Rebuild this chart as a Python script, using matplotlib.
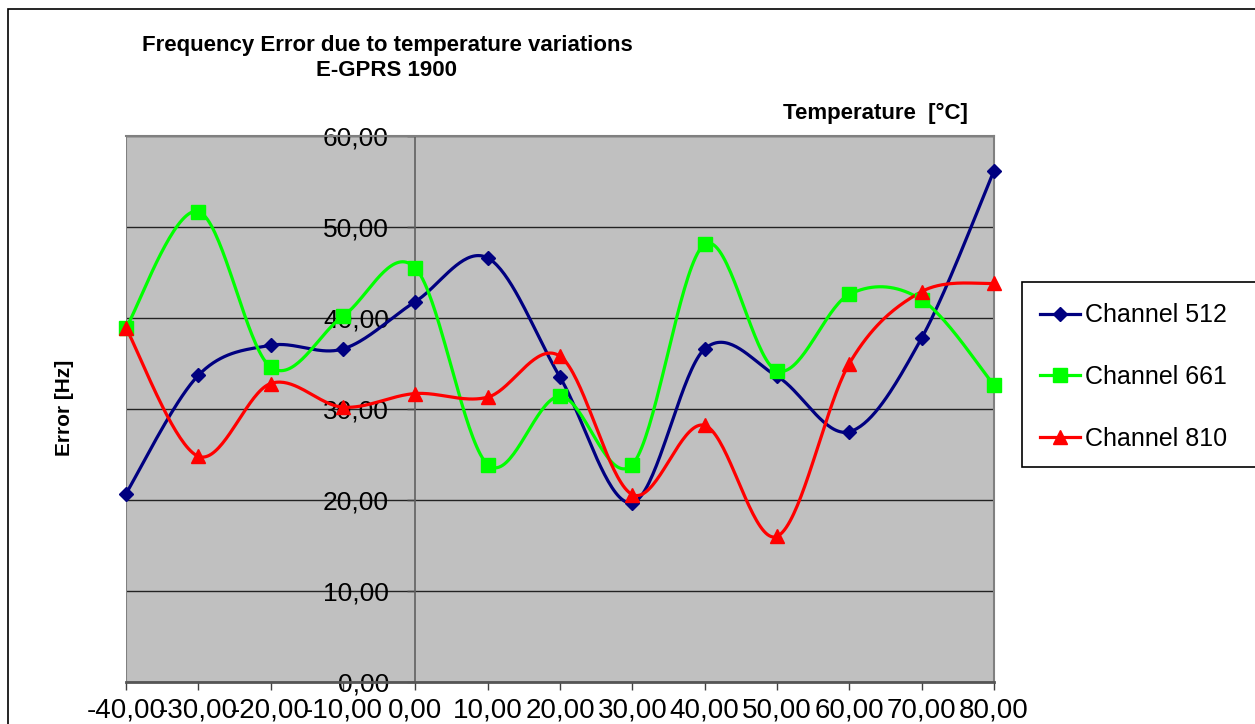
import matplotlib.pyplot as plt
import numpy as np
from matplotlib.patches import Rectangle
from matplotlib.lines import Line2D

plt.rcParams['font.family'] = ['Liberation Sans', 'DejaVu Sans']

temps = [-40, -30, -20, -10, 0, 10, 20, 30, 40, 50, 60, 70, 80]
ch512 = [20.7, 33.7, 37.0, 36.6, 41.8, 46.6, 33.5, 19.7, 36.6, 33.6, 27.5, 37.8, 56.2]
ch661 = [38.9, 51.7, 34.6, 40.2, 45.5, 23.9, 31.4, 23.9, 48.1, 34.2, 42.6, 42.0, 32.6]
ch810 = [38.9, 24.8, 32.8, 30.2, 31.7, 31.3, 35.8, 20.6, 28.2, 16.0, 35.0, 42.9, 43.8]
labels = ['Channel 512', 'Channel 661', 'Channel 810']
colors = ['#000080', '#00FF00', '#FF0000']
markers = ['D', 's', '^']
msizes = [7, 10, 10]


def smooth(x, y, n=40, sx=7.23, sy=9.1):
    # excel-like smoothed line (catmull-rom bezier) in screen-ish units
    p = np.column_stack([np.asarray(x, float) * sx, np.asarray(y, float) * sy])
    pp = np.vstack([p[0], p, p[-1]])
    out = []
    t = np.linspace(0, 1, n)[:, None]
    for i in range(len(p) - 1):
        p0, p3 = pp[i + 1], pp[i + 2]
        c1 = p0 + (pp[i + 2] - pp[i]) / 6
        c2 = p3 - (pp[i + 3] - pp[i + 1]) / 6
        seg = (1 - t) ** 3 * p0 + 3 * (1 - t) ** 2 * t * c1 + 3 * (1 - t) * t ** 2 * c2 + t ** 3 * p3
        out.append(seg)
    out = np.vstack(out)
    return out[:, 0] / sx, out[:, 1] / sy


fig = plt.figure(figsize=(12.55, 7.24), dpi=100)
ax = fig.add_axes([126 / 1255, 1 - 682 / 724, 868 / 1255, 546 / 724])
ax.set_facecolor('#C0C0C0')

for ys, c, m, ms in zip([ch512, ch661, ch810], colors, markers, msizes):
    sx_, sy_ = smooth(temps, ys)
    ax.plot(sx_, sy_, color=c, lw=2.3, clip_on=False, zorder=3)
    ax.plot(temps, ys, ls='none', marker=m, ms=ms, color=c, clip_on=False, zorder=4)

ax.set_xlim(-40, 80)
ax.set_ylim(0, 60)
xt = np.arange(-40, 81, 10)
yt = np.arange(0, 61, 10)
ax.set_xticks(xt)
ax.set_yticks(yt)
ax.set_xticklabels([('%.2f' % v).replace('.', ',') for v in xt])
ax.set_yticklabels([('%.2f' % v).replace('.', ',') for v in yt])

ax.spines['left'].set_position(('data', 0))
ax.spines['left'].set_color('#606060')
ax.spines['left'].set_linewidth(1.2)
for s in ['top', 'right']:
    ax.spines[s].set_color('#808080')
    ax.spines[s].set_linewidth(1.5)
ax.spines['bottom'].set_color('#555555')
ax.spines['bottom'].set_linewidth(2)
ax.axvline(-40, color='#808080', lw=1.5, zorder=1)

ax.grid(axis='y', color='#222222', lw=1)
ax.set_axisbelow(True)
ax.tick_params(axis='both', length=6, color='#404040', width=1)
ax.tick_params(axis='x', labelsize=20, pad=5)
ax.tick_params(axis='y', labelsize=19, pad=13)
for lab in ax.get_yticklabels():
    lab.set_zorder(5)

fig.text(387 / 1255, 1 - 46 / 724, 'Frequency Error due to temperature variations',
         ha='center', va='center', fontsize=16, fontweight='bold')
fig.text(387 / 1255, 1 - 70 / 724, 'E-GPRS 1900',
         ha='center', va='center', fontsize=16, fontweight='bold')
fig.text(875 / 1255, 1 - 113 / 724, 'Temperature  [°C]',
         ha='center', va='center', fontsize=16, fontweight='bold')
fig.text(65 / 1255, 1 - 408 / 724, 'Error [Hz]', rotation=90,
         ha='center', va='center', fontsize=15, fontweight='bold')

# outer chart frame
fig.patches.append(Rectangle((8 / 1255, -0.1), 1.2, 1 - 9 / 724 + 0.1,
                             transform=fig.transFigure, fill=False,
                             edgecolor='black', lw=1.2))
# legend box
fig.patches.append(Rectangle((1022 / 1255, 1 - 467 / 724), 0.3, 185 / 724,
                             transform=fig.transFigure, fill=True, facecolor='white',
                             edgecolor='black', lw=1.2))
handles = [Line2D([], [], color=c, lw=2.3, marker=m, ms=ms)
           for c, m, ms in zip(colors, markers, msizes)]
fig.legend(handles, labels, loc='center left', bbox_to_anchor=(1040 / 1255, 1 - 377 / 724),
           frameon=False, fontsize=18, handlelength=1.6, handletextpad=0.2,
           labelspacing=1.5, borderpad=0, borderaxespad=0)

fig.savefig('out.png', dpi=100)
